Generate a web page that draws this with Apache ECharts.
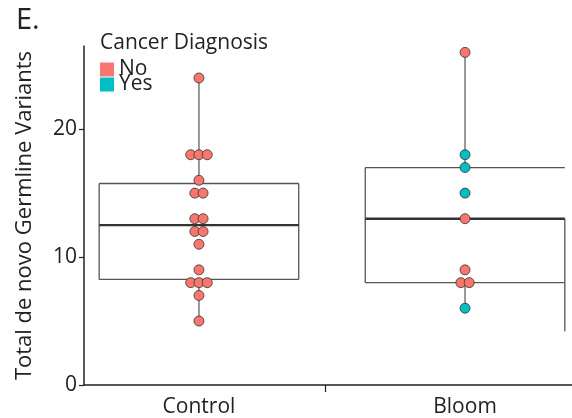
<!DOCTYPE html>
<html><head><meta charset="utf-8">
<script src="https://cdn.jsdelivr.net/npm/echarts@6/dist/echarts.min.js"></script>
<style>html,body{margin:0;padding:0;background:#fff}#c{width:572px;height:418px}</style>
</head><body><div id="c"></div>
<script>
// ---- data ----
const groups = ['Control', 'Bloom'];
const controlValues = [24, 18, 18, 18, 16, 15, 15, 13, 13, 12, 12, 11, 9, 8, 8, 8, 7, 5];
const controlDiagnosis = ['No','No','No','No','No','No','No','No','No','No','No','No','No','No','No','No','No','No'];
const bloomValues = [26, 18, 17, 15, 13, 9, 8, 8, 6];
const bloomDiagnosis = ['No','Yes','Yes','Yes','No','No','No','No','Yes'];
// box stats: min, Q1, median, Q3, max
const controlBox = [5, 8.25, 12.5, 15.75, 24];
const bloomBox = [6, 8, 13, 17, 26];
// right edge of each box as drawn (low, high)
const controlRightEdge = [8.25, 15.75];
const bloomRightEdge = [4.2, 13];
const yTicks = [0, 10, 20];
const legendNames = ['No', 'Yes'];

// ---- build ----
const FONT = 'Open Sans';
const colors = { No: '#F8766D', Yes: '#00BFC4' };
const DODGE = 0.031;

function dodged(gi, values, diag) {
  const counts = {}, seen = {};
  values.forEach(v => counts[v] = (counts[v] || 0) + 1);
  return values.map((v, i) => {
    const k = counts[v];
    const j = seen[v] = (seen[v] === undefined ? 0 : seen[v] + 1);
    return { x: gi + (j - (k - 1) / 2) * DODGE, y: v, d: diag[i] };
  });
}
const pts = dodged(0, controlValues, controlDiagnosis).concat(dodged(1, bloomValues, bloomDiagnosis));

const boxData = [
  [0].concat(controlBox, controlRightEdge),
  [1].concat(bloomBox, bloomRightEdge)
];

const chart = echarts.init(document.getElementById('c'), null, { renderer: 'canvas' });
chart.setOption({
  animation: false,
  textStyle: { fontFamily: FONT },
  title: [
    { text: 'E.', left: 16, top: 6, padding: 0, textStyle: { fontFamily: FONT, fontSize: 29, fontWeight: 'normal', color: '#222' } },
    { text: 'Cancer Diagnosis', left: 100, top: 33, padding: 0, textStyle: { fontFamily: FONT, fontSize: 21, fontWeight: 'normal', color: '#222' } }
  ],
  legend: {
    data: legendNames,
    orient: 'vertical', left: 100, top: 59,
    itemWidth: 14, itemHeight: 14, itemGap: -6,
    icon: 'rect',
    itemStyle: { borderWidth: 0 },
    textStyle: { fontFamily: FONT, fontSize: 21, color: '#222' },
    padding: 0
  },
  grid: { left: 84, right: 0, top: 46, bottom: 33, containLabel: false },
  xAxis: {
    type: 'value', min: -0.432, max: 1.402,
    axisLine: { onZero: false, lineStyle: { color: '#222', width: 1.5 } },
    axisTick: { show: true, customValues: [0.474], length: 7, inside: false, lineStyle: { color: '#222', width: 1.2 } },
    axisLabel: { customValues: [0, 1], formatter: v => groups[Math.round(v)], fontFamily: FONT, fontSize: 21, color: '#222', margin: 12 },
    splitLine: { show: false }
  },
  yAxis: {
    type: 'value', min: 0, max: 26.5,
    name: 'Total de novo Germline Variants', nameLocation: 'middle', nameGap: 48,
    nameTextStyle: { fontFamily: FONT, fontSize: 22, color: '#222' },
    axisLine: { show: true, onZero: false, lineStyle: { color: '#222', width: 1.5 } },
    axisTick: { show: true, customValues: yTicks, length: 5, lineStyle: { color: '#222', width: 1.2 } },
    axisLabel: { customValues: yTicks, fontFamily: FONT, fontSize: 21, color: '#222', margin: 7 },
    splitLine: { show: false }
  },
  series: [
    {
      type: 'custom', name: 'box', z: 1,
      data: boxData,
      renderItem: function (params, api) {
        const x = api.value(0);
        const hw = 0.375;
        const mn = api.value(1), q1 = api.value(2), md = api.value(3), q3 = api.value(4), mx = api.value(5);
        const rl = api.value(6), rh = api.value(7);
        const p = (dx, y) => api.coord([x + dx, y]);
        const line = (a, b, style) => ({ type: 'line', shape: { x1: a[0], y1: a[1], x2: b[0], y2: b[1] }, style: style });
        const w = { stroke: '#777', lineWidth: 1.5 };
        const b = { stroke: '#555', lineWidth: 1.3 };
        const m = { stroke: '#333', lineWidth: 2.4 };
        return { type: 'group', children: [
          line(p(0, q3), p(0, mx), w),
          line(p(0, mn), p(0, q1), w),
          line(p(-hw, q1), p(-hw, q3), b),
          line(p(-hw, q3), p(hw, q3), b),
          line(p(-hw, q1), p(hw, q1), b),
          line(p(hw, rl), p(hw, rh), b),
          line(p(-hw, md), p(hw, md), m)
        ]};
      }
    },
    {
      type: 'scatter', name: 'No', z: 3,
      data: pts.filter(p => p.d === 'No').map(p => [p.x, p.y]),
      symbolSize: 10,
      itemStyle: { color: colors.No, borderColor: '#333', borderWidth: 0.8, opacity: 1 }
    },
    {
      type: 'scatter', name: 'Yes', z: 3,
      data: pts.filter(p => p.d === 'Yes').map(p => [p.x, p.y]),
      symbolSize: 10,
      itemStyle: { color: colors.Yes, borderColor: '#333', borderWidth: 0.8, opacity: 1 }
    }
  ]
});
</script>
</body></html>
